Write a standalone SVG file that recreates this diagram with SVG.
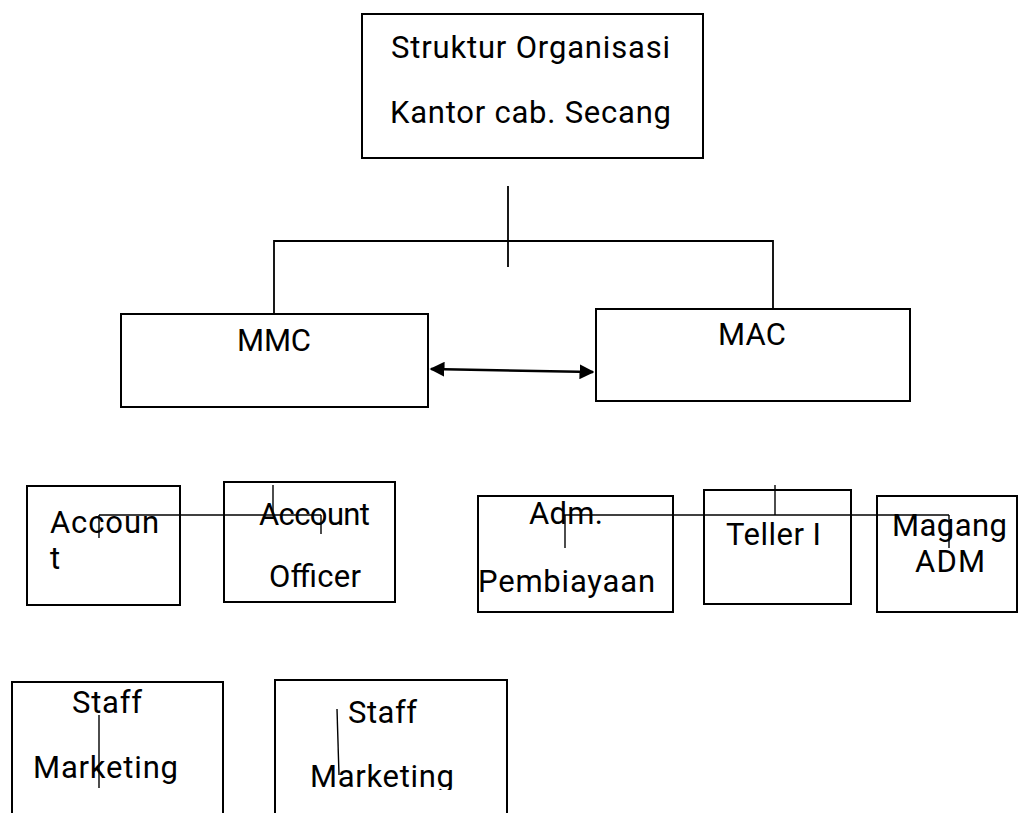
<svg xmlns="http://www.w3.org/2000/svg" width="1018" height="813" viewBox="0 0 1018 813">
<style>
.box{fill:#fff;stroke:#000;stroke-width:2}
.t{font-family:Roboto,"Liberation Sans",sans-serif;font-size:31px;fill:#000}
.c{stroke:#000;stroke-width:1.8;fill:none}
.thin{stroke:#000;stroke-width:1.4;fill:none}
</style>
<defs>
<marker id="ah" viewBox="0 0 10 10" refX="9" refY="5" markerWidth="6" markerHeight="6" orient="auto-start-reverse" markerUnits="strokeWidth">
<path d="M0,0 L10,5 L0,10 z" fill="#000"/>
</marker>
<clipPath id="clipBottom"><rect x="0" y="0" width="1018" height="790"/></clipPath>
</defs>
<rect width="1018" height="813" fill="#fff"/>

<g id="node-top">
<rect class="box" x="362" y="14" width="341" height="144"/>
<text class="t" x="391" y="58" textLength="279" lengthAdjust="spacing">Struktur Organisasi</text>
<text class="t" x="390" y="123" textLength="281" lengthAdjust="spacing">Kantor cab. Secang</text>
</g>

<g id="node-mmc">
<rect class="box" x="121" y="314" width="307" height="93"/>
<text class="t" x="237" y="351" textLength="74" lengthAdjust="spacing">MMC</text>
</g>

<g id="node-mac">
<rect class="box" x="596" y="309" width="314" height="92"/>
<text class="t" x="718" y="345" textLength="68" lengthAdjust="spacing">MAC</text>
</g>

<g id="node-account">
<rect class="box" x="27" y="486" width="153" height="119"/>
<text class="t" x="50" y="533" textLength="109" lengthAdjust="spacing">Accoun</text>
<text class="t" x="50" y="569">t</text>
</g>

<g id="node-account-officer">
<rect class="box" x="224" y="482" width="171" height="120"/>
<text class="t" x="259" y="525" textLength="111" lengthAdjust="spacing">Account</text>
<text class="t" x="269" y="587" textLength="92" lengthAdjust="spacing">Officer</text>
</g>

<g id="node-adm">
<rect class="box" x="478" y="496" width="195" height="116"/>
<text class="t" x="529" y="524" textLength="74" lengthAdjust="spacing">Adm.</text>
<text class="t" x="478" y="592" textLength="177" lengthAdjust="spacing">Pembiayaan</text>
</g>

<g id="node-teller">
<rect class="box" x="704" y="490" width="147" height="114"/>
<text class="t" x="726" y="545" textLength="95" lengthAdjust="spacing">Teller I</text>
</g>

<g id="node-magang">
<rect class="box" x="877" y="496" width="140" height="116"/>
<text class="t" x="892" y="536" textLength="115" lengthAdjust="spacing">Magang</text>
<text class="t" x="915" y="572" textLength="70" lengthAdjust="spacing">ADM</text>
</g>

<g id="node-staff1">
<rect class="box" x="12" y="682" width="211" height="160"/>
<text class="t" x="72" y="713" textLength="70" lengthAdjust="spacing">Staff</text>
<text class="t" x="33" y="778" textLength="145" lengthAdjust="spacing">Marketing</text>
</g>

<g id="node-staff2">
<rect class="box" x="275" y="680" width="232" height="160"/>
<text class="t" x="348" y="723" textLength="69" lengthAdjust="spacing">Staff</text>
<text class="t" x="310" y="787" textLength="144" lengthAdjust="spacing" clip-path="url(#clipBottom)">Marketing</text>
</g>

<g id="connectors">
<line class="c" x1="508" y1="186" x2="508" y2="267"/>
<polyline class="c" points="274,314 274,241 773,241 773,309"/>
<line x1="431" y1="369" x2="593" y2="372" stroke="#000" stroke-width="2.5" marker-start="url(#ah)" marker-end="url(#ah)"/>
<line class="thin" x1="99" y1="515" x2="321" y2="515"/>
<line class="thin" x1="99" y1="515" x2="99" y2="538"/>
<line class="thin" x1="273" y1="485" x2="273" y2="515"/>
<line class="thin" x1="321" y1="515" x2="321" y2="534"/>
<line class="thin" x1="564" y1="515" x2="949" y2="515"/>
<line class="thin" x1="565" y1="515" x2="565" y2="548"/>
<line class="thin" x1="775" y1="485" x2="775" y2="515"/>
<line class="thin" x1="949" y1="515" x2="949" y2="548"/>
<line class="thin" x1="99" y1="715" x2="99" y2="788"/>
<line class="thin" x1="337" y1="709" x2="339" y2="775"/>
</g>
</svg>
